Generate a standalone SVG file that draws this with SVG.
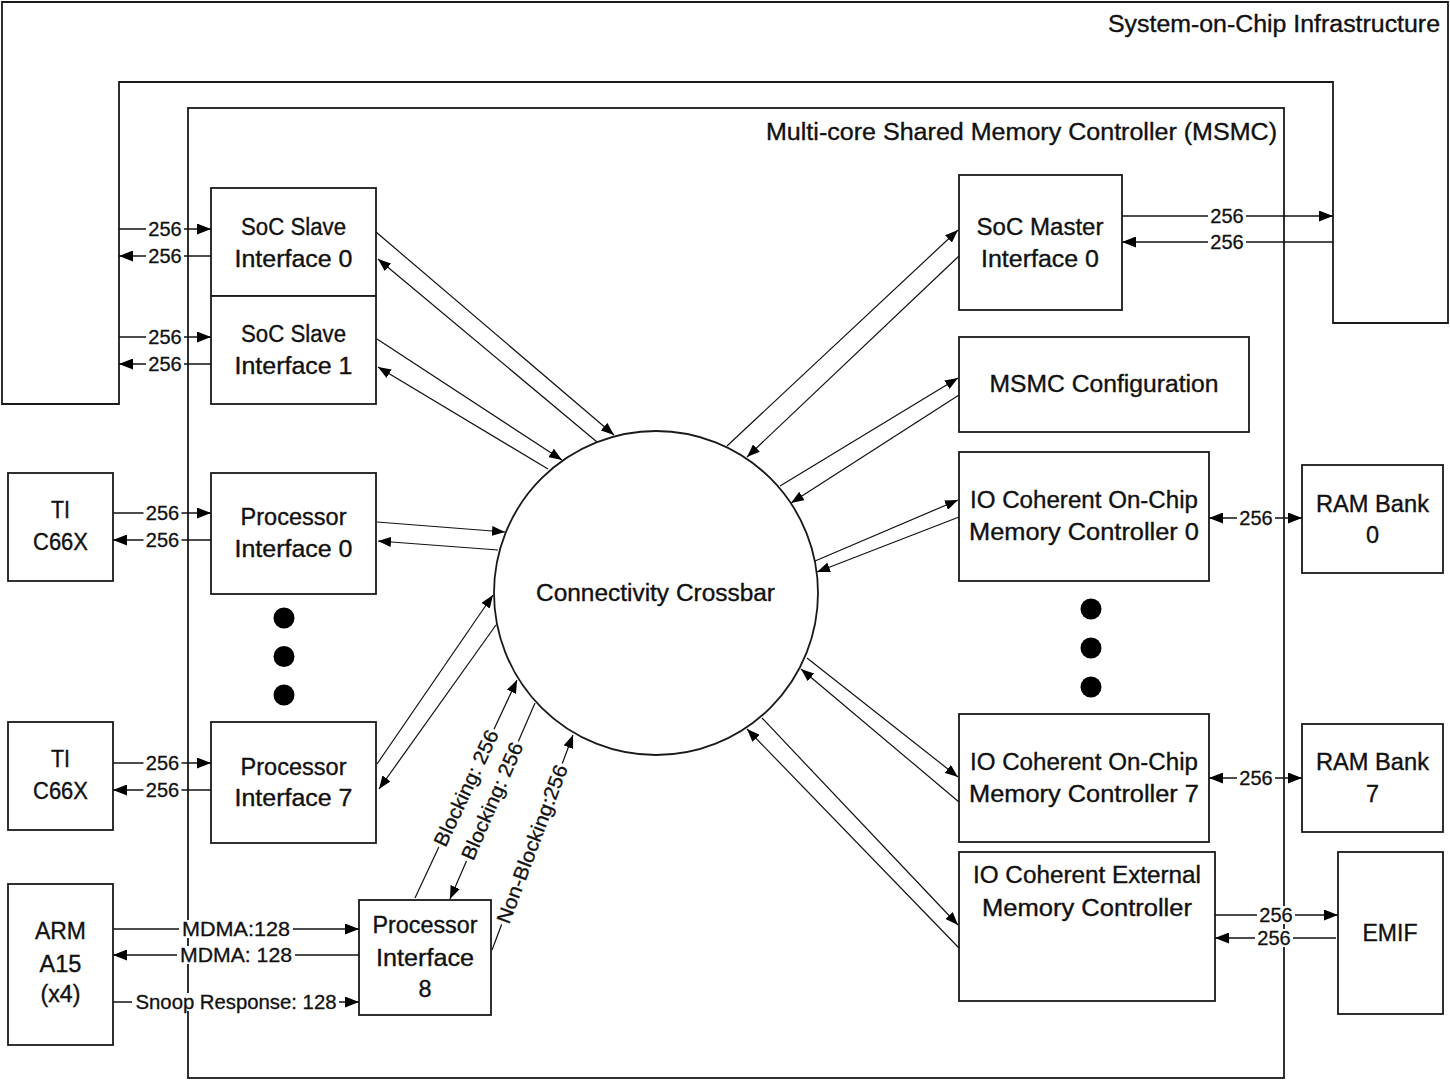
<svg xmlns="http://www.w3.org/2000/svg" width="1450" height="1080" viewBox="0 0 1450 1080">
  <style>
    .box { fill: #fff; stroke: #1a1a1a; stroke-width: 1.8; }
    .frame { fill: none; stroke: #1a1a1a; stroke-width: 1.8; }
    .txt { font-family: "Liberation Sans", Arial, sans-serif; font-size: 23.5px; fill: #111; stroke: #111; stroke-width: 0.35; text-anchor: middle; }
    .title { text-anchor: end; }
    .tag { font-family: "Liberation Sans", Arial, sans-serif; font-size: 20px; fill: #111; stroke: #111; stroke-width: 0.3; text-anchor: middle; }
    .wire { fill: none; stroke: #111; stroke-width: 1.6; marker-end: url(#ah); }
    .both { marker-start: url(#ah); }
    .diag { fill: none; stroke: #111; stroke-width: 1.2; marker-end: url(#ahs); }
    .bg { fill: #fff; stroke: none; }
    .dot { fill: #000; }
  </style>
  <defs>
    <marker id="ah" viewBox="0 0 14 11" refX="14" refY="5.5" markerWidth="14" markerHeight="11" markerUnits="userSpaceOnUse" orient="auto-start-reverse">
      <path d="M0,0 L14,5.5 L0,11 z" fill="#000"/>
    </marker>
    <marker id="ahs" viewBox="0 0 13 10" refX="13" refY="5" markerWidth="13" markerHeight="10" markerUnits="userSpaceOnUse" orient="auto">
      <path d="M0,0 L13,5 L0,10 z" fill="#000"/>
    </marker>
  </defs>

  <rect width="1450" height="1080" fill="#fff"/>

  <!-- outer SoC infrastructure frame -->
  <g id="soc-infrastructure">
    <polygon class="frame" points="2,2 1448,2 1448,323 1333,323 1333,82 119,82 119,404 2,404"/>
    <text class="txt title" x="1440" y="32" textLength="332" lengthAdjust="spacingAndGlyphs">System-on-Chip Infrastructure</text>
  </g>

  <!-- MSMC container -->
  <g id="msmc">
    <rect class="frame" x="188" y="108" width="1096" height="970"/>
    <text class="txt title" x="1277" y="140" textLength="511" lengthAdjust="spacingAndGlyphs">Multi-core Shared Memory Controller (MSMC)</text>
  </g>

  <!-- left-hand nodes -->
  <g id="soc-slave-0">
    <rect class="box" x="211" y="188" width="165" height="108"/>
    <text class="txt" x="293.5" y="235" textLength="105" lengthAdjust="spacingAndGlyphs">SoC Slave</text>
    <text class="txt" x="293.5" y="267" textLength="118" lengthAdjust="spacingAndGlyphs">Interface 0</text>
  </g>
  <g id="soc-slave-1">
    <rect class="box" x="211" y="296" width="165" height="108"/>
    <text class="txt" x="293.5" y="342" textLength="105" lengthAdjust="spacingAndGlyphs">SoC Slave</text>
    <text class="txt" x="293.5" y="374" textLength="118" lengthAdjust="spacingAndGlyphs">Interface 1</text>
  </g>
  <g id="ti-c66x-0">
    <rect class="box" x="8" y="473" width="105" height="108"/>
    <text class="txt" x="60.5" y="518" textLength="19" lengthAdjust="spacingAndGlyphs">TI</text>
    <text class="txt" x="60.5" y="550" textLength="55" lengthAdjust="spacingAndGlyphs">C66X</text>
  </g>
  <g id="proc-if-0">
    <rect class="box" x="211" y="473" width="165" height="121"/>
    <text class="txt" x="293.5" y="525" textLength="106" lengthAdjust="spacingAndGlyphs">Processor</text>
    <text class="txt" x="293.5" y="557" textLength="118" lengthAdjust="spacingAndGlyphs">Interface 0</text>
  </g>
  <g id="proc-ellipsis">
    <circle class="dot" cx="284" cy="618" r="10.5"/>
    <circle class="dot" cx="284" cy="656.5" r="10.5"/>
    <circle class="dot" cx="284" cy="695" r="10.5"/>
  </g>
  <g id="ti-c66x-7">
    <rect class="box" x="8" y="722" width="105" height="108"/>
    <text class="txt" x="60.5" y="767" textLength="19" lengthAdjust="spacingAndGlyphs">TI</text>
    <text class="txt" x="60.5" y="799" textLength="55" lengthAdjust="spacingAndGlyphs">C66X</text>
  </g>
  <g id="proc-if-7">
    <rect class="box" x="211" y="722" width="165" height="121"/>
    <text class="txt" x="293.5" y="775" textLength="106" lengthAdjust="spacingAndGlyphs">Processor</text>
    <text class="txt" x="293.5" y="806" textLength="118" lengthAdjust="spacingAndGlyphs">Interface 7</text>
  </g>
  <g id="arm-a15">
    <rect class="box" x="8" y="884" width="105" height="161"/>
    <text class="txt" x="60.5" y="939" textLength="51" lengthAdjust="spacingAndGlyphs">ARM</text>
    <text class="txt" x="60.5" y="972" textLength="42" lengthAdjust="spacingAndGlyphs">A15</text>
    <text class="txt" x="60.5" y="1002" textLength="40" lengthAdjust="spacingAndGlyphs">(x4)</text>
  </g>
  <g id="proc-if-8">
    <rect class="box" x="359" y="900" width="132" height="115"/>
    <text class="txt" x="425" y="933" textLength="105" lengthAdjust="spacingAndGlyphs">Processor</text>
    <text class="txt" x="425" y="966" textLength="98" lengthAdjust="spacingAndGlyphs">Interface</text>
    <text class="txt" x="425" y="997">8</text>
  </g>

  <!-- central crossbar -->
  <g id="crossbar">
    <circle class="box" cx="656" cy="593" r="162" stroke-width="1.4"/>
    <text class="txt" x="655.5" y="601" textLength="239" lengthAdjust="spacingAndGlyphs">Connectivity Crossbar</text>
  </g>

  <!-- right-hand nodes -->
  <g id="soc-master-0">
    <rect class="box" x="959" y="175" width="163" height="135"/>
    <text class="txt" x="1040" y="235" textLength="127" lengthAdjust="spacingAndGlyphs">SoC Master</text>
    <text class="txt" x="1040" y="267" textLength="118" lengthAdjust="spacingAndGlyphs">Interface 0</text>
  </g>
  <g id="msmc-config">
    <rect class="box" x="959" y="337" width="290" height="95"/>
    <text class="txt" x="1104" y="392" textLength="229" lengthAdjust="spacingAndGlyphs">MSMC Configuration</text>
  </g>
  <g id="io-onchip-0">
    <rect class="box" x="959" y="452" width="250" height="129"/>
    <text class="txt" x="1084" y="508" textLength="228" lengthAdjust="spacingAndGlyphs">IO Coherent On-Chip</text>
    <text class="txt" x="1084" y="540" textLength="230" lengthAdjust="spacingAndGlyphs">Memory Controller 0</text>
  </g>
  <g id="ram-bank-0">
    <rect class="box" x="1302" y="465" width="141" height="108"/>
    <text class="txt" x="1372.5" y="512" textLength="113" lengthAdjust="spacingAndGlyphs">RAM Bank</text>
    <text class="txt" x="1372.5" y="543">0</text>
  </g>
  <g id="mem-ellipsis">
    <circle class="dot" cx="1091" cy="609" r="10.5"/>
    <circle class="dot" cx="1091" cy="648" r="10.5"/>
    <circle class="dot" cx="1091" cy="687" r="10.5"/>
  </g>
  <g id="io-onchip-7">
    <rect class="box" x="959" y="714" width="250" height="128"/>
    <text class="txt" x="1084" y="770" textLength="228" lengthAdjust="spacingAndGlyphs">IO Coherent On-Chip</text>
    <text class="txt" x="1084" y="802" textLength="230" lengthAdjust="spacingAndGlyphs">Memory Controller 7</text>
  </g>
  <g id="ram-bank-7">
    <rect class="box" x="1302" y="724" width="141" height="108"/>
    <text class="txt" x="1372.5" y="770" textLength="113" lengthAdjust="spacingAndGlyphs">RAM Bank</text>
    <text class="txt" x="1372.5" y="802">7</text>
  </g>
  <g id="io-external">
    <rect class="box" x="959" y="852" width="256" height="149"/>
    <text class="txt" x="1087" y="883" textLength="228" lengthAdjust="spacingAndGlyphs">IO Coherent External</text>
    <text class="txt" x="1087" y="916" textLength="210" lengthAdjust="spacingAndGlyphs">Memory Controller</text>
  </g>
  <g id="emif">
    <rect class="box" x="1338" y="852" width="105" height="162"/>
    <text class="txt" x="1390" y="941" textLength="55" lengthAdjust="spacingAndGlyphs">EMIF</text>
  </g>

  <!-- connectors -->
  <g id="connectors">
    <!-- SoC slave ports -->
    <path class="wire" d="M119,229 H211"/>
    <path class="wire" d="M211,256 H119"/>
    <path class="wire" d="M119,337 H211"/>
    <path class="wire" d="M211,364 H119"/>
    <!-- DSP cores to processor interfaces -->
    <path class="wire" d="M113,513 H211"/>
    <path class="wire" d="M211,540 H113"/>
    <path class="wire" d="M113,763 H211"/>
    <path class="wire" d="M211,790 H113"/>
    <!-- ARM cluster to processor interface 8 -->
    <path class="wire" d="M113,929 H359"/>
    <path class="wire" d="M359,955 H113"/>
    <path class="wire" d="M113,1002 H359"/>
    <!-- SoC master port -->
    <path class="wire" d="M1122,216 H1333"/>
    <path class="wire" d="M1333,242 H1122"/>
    <!-- memory banks and EMIF -->
    <path class="wire both" d="M1209,518 H1302"/>
    <path class="wire both" d="M1209,778 H1302"/>
    <path class="wire" d="M1215,915 H1338"/>
    <path class="wire" d="M1336,938 H1215"/>

    <!-- crossbar links, left side -->
    <path class="diag" d="M376,232 L614,435"/>
    <path class="diag" d="M597,442 L378,259"/>
    <path class="diag" d="M377,339 L562,460"/>
    <path class="diag" d="M548,469 L378,367"/>
    <path class="diag" d="M377,522 L505,532"/>
    <path class="diag" d="M498,550 L378,541"/>
    <path class="diag" d="M377,764 L493,595"/>
    <path class="diag" d="M496,625 L379,789"/>
    <path class="diag" d="M415,898 L517,680"/>
    <path class="diag" d="M535,703 L450,899"/>
    <path class="diag" d="M492,950 L573,735"/>

    <!-- crossbar links, right side -->
    <path class="diag" d="M727,446 L958,230"/>
    <path class="diag" d="M959,256 L747,457"/>
    <path class="diag" d="M780,486 L958,378"/>
    <path class="diag" d="M959,395 L791,503"/>
    <path class="diag" d="M815,561 L958,500"/>
    <path class="diag" d="M959,517 L817,572"/>
    <path class="diag" d="M807,658 L958,777"/>
    <path class="diag" d="M959,802 L801,669"/>
    <path class="diag" d="M762,718 L958,925"/>
    <path class="diag" d="M959,948 L747,729"/>

    <!-- width labels -->
    <g id="labels">
      <rect class="bg" x="146" y="220" width="38" height="18"/><text class="tag" x="165" y="236">256</text>
      <rect class="bg" x="146" y="247" width="38" height="18"/><text class="tag" x="165" y="263">256</text>
      <rect class="bg" x="146" y="328" width="38" height="18"/><text class="tag" x="165" y="344">256</text>
      <rect class="bg" x="146" y="355" width="38" height="18"/><text class="tag" x="165" y="371">256</text>

      <rect class="bg" x="143.5" y="504" width="38" height="18"/><text class="tag" x="162.5" y="520">256</text>
      <rect class="bg" x="143.5" y="531" width="38" height="18"/><text class="tag" x="162.5" y="547">256</text>
      <rect class="bg" x="143.5" y="754" width="38" height="18"/><text class="tag" x="162.5" y="770">256</text>
      <rect class="bg" x="143.5" y="781" width="38" height="18"/><text class="tag" x="162.5" y="797">256</text>

      <rect class="bg" x="179" y="920" width="114" height="18"/><text class="tag" x="236" y="936" textLength="108" lengthAdjust="spacingAndGlyphs">MDMA:128</text>
      <rect class="bg" x="177" y="946" width="118" height="18"/><text class="tag" x="236" y="962" textLength="112" lengthAdjust="spacingAndGlyphs">MDMA: 128</text>
      <rect class="bg" x="132" y="993" width="207" height="18"/><text class="tag" x="236" y="1009" textLength="201" lengthAdjust="spacingAndGlyphs">Snoop Response: 128</text>

      <rect class="bg" x="1208" y="207" width="38" height="18"/><text class="tag" x="1227" y="223">256</text>
      <rect class="bg" x="1208" y="233" width="38" height="18"/><text class="tag" x="1227" y="249">256</text>
      <rect class="bg" x="1237" y="509" width="38" height="18"/><text class="tag" x="1256" y="525">256</text>
      <rect class="bg" x="1237" y="769" width="38" height="18"/><text class="tag" x="1256" y="785">256</text>
      <rect class="bg" x="1257" y="906" width="38" height="18"/><text class="tag" x="1276" y="922">256</text>
      <rect class="bg" x="1255" y="929" width="38" height="18"/><text class="tag" x="1274" y="945">256</text>

      <g transform="translate(466,788) rotate(-64.8)">
        <rect class="bg" x="-65" y="-9" width="130" height="18"/><text class="tag" x="0" y="7" textLength="126" lengthAdjust="spacingAndGlyphs">Blocking: 256</text>
      </g>
      <g transform="translate(492,801) rotate(-66.4)">
        <rect class="bg" x="-65" y="-9" width="130" height="18"/><text class="tag" x="0" y="7" textLength="126" lengthAdjust="spacingAndGlyphs">Blocking: 256</text>
      </g>
      <g transform="translate(532,844) rotate(-69.4)">
        <rect class="bg" x="-86" y="-9" width="172" height="18"/><text class="tag" x="0" y="7" textLength="168" lengthAdjust="spacingAndGlyphs">Non-Blocking:256</text>
      </g>
    </g>
  </g>
</svg>
